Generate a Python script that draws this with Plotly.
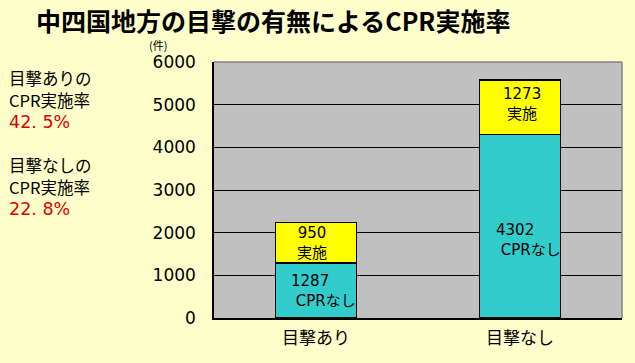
import plotly.graph_objects as go

categories = ["目撃あり", "目撃なし"]
no_cpr = [1287, 4302]
cpr_done = [950, 1273]
no_cpr_label = "CPRなし"
cpr_label = "実施"
rates = ["42. 5%", "22. 8%"]
rate_lines = [["目撃ありの", "CPR実施率"], ["目撃なしの", "CPR実施率"]]
y_ticks = [0, 1000, 2000, 3000, 4000, 5000, 6000]

CJK = "Noto Sans CJK JP"
NUM = "DejaVu Sans, Noto Sans CJK JP"
BG = "#FFFFCC"

L, R, T, B = 214, 13, 62, 45
PW, PH = 635 - L - R, 363 - T - B


def px(x):
    return (x - L) / PW


def py(y):
    return 1 - (y - T) / PH


fig = go.Figure()
fig.add_trace(go.Bar(x=categories, y=no_cpr, name=no_cpr_label,
                     marker=dict(color="#33CCCC", line=dict(color="black", width=1.3)),
                     width=0.4, hoverinfo="skip"))
fig.add_trace(go.Bar(x=categories, y=cpr_done, name=cpr_label,
                     marker=dict(color="#FFFF00", line=dict(color="black", width=1.3)),
                     width=0.4, hoverinfo="skip"))

ann = []
teal_shift = [(7, 0), (8, -14)]
yel_shift = [(-4, 0), (2, 3)]
for i, c in enumerate(categories):
    ann.append(dict(x=c, y=no_cpr[i] / 2, xref="x", yref="y",
                    text=f"{no_cpr[i]}<br> {no_cpr_label}", showarrow=False,
                    align="left", xshift=teal_shift[i][0], yshift=teal_shift[i][1],
                    font=dict(family=NUM, size=15, color="black")))
    ann.append(dict(x=c, y=no_cpr[i] + cpr_done[i] / 2, xref="x", yref="y",
                    text=f"{cpr_done[i]}<br>{cpr_label}", showarrow=False,
                    align="center", xshift=yel_shift[i][0], yshift=yel_shift[i][1],
                    font=dict(family=NUM, size=15, color="black")))

# title
ann.append(dict(xref="paper", yref="paper", x=px(273), y=py(20),
                xanchor="center", yanchor="middle", showarrow=False, borderpad=0,
                text="<b>中四国地方の目撃の有無によるCPR実施率</b>",
                font=dict(family=CJK, size=25, color="black")))
# unit
ann.append(dict(xref="paper", yref="paper", x=px(158), y=py(45),
                xanchor="center", yanchor="middle", showarrow=False, text="(件)",
                borderpad=0, font=dict(family=CJK, size=11, color="black")))
# left-side rate texts
line_y = [[78, 100, 122], [165, 187, 209]]
for i in range(2):
    for j, t in enumerate(rate_lines[i]):
        ann.append(dict(xref="paper", yref="paper", x=px(8), y=py(line_y[i][j]),
                        xanchor="left", yanchor="middle", showarrow=False, borderpad=0,
                        text=t, font=dict(family=CJK, size=16.5, color="black")))
    ann.append(dict(xref="paper", yref="paper", x=px(8), y=py(line_y[i][2]),
                    xanchor="left", yanchor="middle", showarrow=False, borderpad=0,
                    text=rates[i], font=dict(family=NUM, size=17.5, color="#DD0000")))

fig.update_layout(
    width=635, height=363,
    margin=dict(l=L, r=R, t=T, b=B, autoexpand=False),
    paper_bgcolor=BG, plot_bgcolor="#C0C0C0",
    barmode="stack", showlegend=False,
    font=dict(family=CJK, color="black"),
    xaxis=dict(showgrid=False, showline=True, linecolor="black", linewidth=1.5,
               tickfont=dict(family=CJK, size=17, color="black"),
               ticks="", ticklabelstandoff=4, automargin=False, fixedrange=True),
    yaxis=dict(range=[0, 6000], tickvals=y_ticks, showgrid=True, gridcolor="black",
               gridwidth=1, showline=True, linecolor="black", linewidth=1.5,
               tickfont=dict(family=NUM, size=17, color="black"),
               ticks="", ticklabelstandoff=13, zeroline=False, automargin=False,
               fixedrange=True),
    annotations=ann,
)

fig.add_shape(type="line", xref="paper", yref="paper", x0=0, x1=1, y0=1, y1=1,
              line=dict(color="#808080", width=1.5))
fig.add_shape(type="line", xref="paper", yref="paper", x0=1, x1=1, y0=0, y1=1,
              line=dict(color="#808080", width=1.5))

fig.write_html(
    "out.html",
    config={"displayModeBar": False},
    post_script="document.body.style.margin='0';"
                "document.body.style.backgroundColor='#FFFFCC';"
                "document.documentElement.style.overflow='hidden';",
)
